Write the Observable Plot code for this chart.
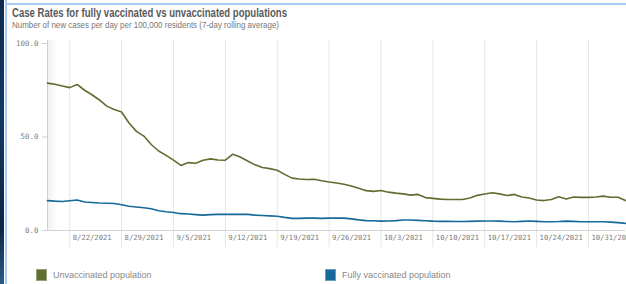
<!DOCTYPE html>
<html>
<head>
<meta charset="utf-8">
<script src="https://cdn.jsdelivr.net/npm/d3@7"></script>
<script src="https://cdn.jsdelivr.net/npm/@observablehq/plot@0.6"></script>
<style>
  html, body { margin: 0; padding: 0; background: #fff; }
  body { width: 626px; height: 284px; position: relative; overflow: hidden; }
  .leftbar { position: absolute; left: 0; top: 0; width: 4px; height: 284px;
    background: linear-gradient(180deg, #0d2c4f, #123a63 40%, #0b2746 80%, #2a5b86); }
  .leftline { position: absolute; left: 5px; top: 0; width: 2px; height: 284px; background: #a6cbf3; }
  .topline { position: absolute; left: 6px; top: 3px; right: 0; height: 2px; background: #a6cbf3; }
  .title { position: absolute; left: 12px; top: 6px; font: bold 12px "Liberation Sans", Arial, sans-serif; color: #5a5a5a; white-space: nowrap; transform-origin: 0 0; }
  .subtitle { position: absolute; left: 12px; top: 20px; font: 8.8px "Liberation Sans", Arial, sans-serif; color: #777; white-space: nowrap; transform-origin: 0 0; }
  #chart { position: absolute; left: 0; top: 34px; }
  .shadow { position: absolute; left: 47px; top: 40px; width: 10px; height: 190px;
    background: linear-gradient(90deg, rgba(0,0,0,0.06), rgba(0,0,0,0)); pointer-events: none; }
  .legend { position: absolute; top: 269px; left: 0; width: 626px; height: 14px;
    font: 9px "Liberation Sans", Arial, sans-serif; color: #888; }
  .item { position: absolute; top: 0; display: flex; align-items: center; }
  .sw { width: 11px; height: 12px; margin-right: 6px; box-sizing: border-box; border: 1px solid rgba(255,255,255,0.35); }
</style>
</head>
<body>
<div class="leftbar"></div>
<div class="leftline"></div>
<div class="topline"></div>
<div class="title" id="title">Case Rates for fully vaccinated vs unvaccinated populations</div>
<div class="subtitle" id="subtitle">Number of new cases per day per 100,000 residents (7-day rolling average)</div>
<div id="chart"></div>
<div class="shadow"></div>
<div class="legend" id="legend"></div>
<script>
// ---- data ----
const startDate = "2021-08-19";   // first daily observation
const endDate = "2021-11-05";     // last daily observation
const seriesNames = ["Unvaccinated population", "Fully vaccinated population"];
const seriesColors = ["#5f6d31", "#17699a"];
const unvaccinated = [
  78.8, 78.2, 77.3, 76.4, 78.1, 75.0, 72.6, 69.8, 66.5, 64.7,
  63.4, 57.5, 53.0, 50.5, 46.0, 42.5, 40.2, 37.6, 34.8, 36.3,
  36.0, 37.6, 38.3, 37.7, 37.6, 40.8, 39.3, 37.2, 35.1, 33.7,
  33.1, 32.2, 30.0, 28.0, 27.5, 27.3, 27.4, 26.6, 25.9, 25.4,
  24.7, 23.8, 22.6, 21.3, 20.9, 21.4, 20.5, 20.0, 19.6, 18.9,
  19.3, 17.6, 17.2, 16.8, 16.6, 16.6, 16.6, 17.4, 18.8, 19.5,
  20.2, 19.6, 18.7, 19.3, 17.9, 17.4, 16.3, 16.0, 16.6, 18.0,
  16.8, 17.9, 17.7, 17.7, 17.9, 18.4, 17.8, 17.8, 16.0
];
const fullyVaccinated = [
  16.0, 15.7, 15.5, 15.9, 16.3, 15.2, 15.0, 14.7, 14.6, 14.4,
  13.8, 13.0, 12.6, 12.2, 11.6, 10.6, 10.0, 9.6, 9.0, 8.8,
  8.5, 8.2, 8.5, 8.6, 8.6, 8.6, 8.6, 8.6, 8.2, 8.0,
  7.8, 7.6, 7.0, 6.5, 6.5, 6.6, 6.6, 6.5, 6.6, 6.6,
  6.6, 6.2, 5.7, 5.3, 5.2, 5.0, 5.1, 5.3, 5.6, 5.6,
  5.4, 5.2, 5.0, 4.9, 4.9, 4.8, 4.8, 4.9, 5.0, 5.1,
  5.1, 5.0, 4.8, 4.7, 4.9, 5.1, 4.9, 4.7, 4.7, 4.8,
  5.0, 4.9, 4.7, 4.7, 4.7, 4.7, 4.5, 4.2, 3.8
];
const xTickLabels = ["8/22/2021", "8/29/2021", "9/5/2021", "9/12/2021", "9/19/2021",
  "9/26/2021", "10/3/2021", "10/10/2021", "10/17/2021", "10/24/2021", "10/31/2021"];
const yTicks = [0, 50, 100];

// ---- build table ----
const parseMDY = d3.utcParse("%m/%d/%Y");
const fmtMDY = d3.utcFormat("%-m/%-d/%Y");
const start = new Date(startDate + "T00:00:00Z");
const end = new Date(endDate + "T00:00:00Z");
const days = d3.utcDay.range(start, d3.utcDay.offset(end, 1));
const rows = [];
[unvaccinated, fullyVaccinated].forEach((vals, s) => {
  vals.forEach((v, i) => rows.push({date: days[i], value: v, series: seriesNames[s]}));
});
const tickDates = xTickLabels.map(parseMDY);
const mono = "'DejaVu Sans Mono', 'Liberation Mono', monospace";

const chart = Plot.plot({
  width: 626,
  height: 216,
  marginLeft: 47,
  marginRight: 1,
  marginTop: 9,
  marginBottom: 20,
  style: {background: "transparent", overflow: "visible"},
  x: {type: "utc", domain: [start, end]},
  y: {domain: [0, 100]},
  color: {domain: seriesNames, range: seriesColors},
  marks: [
    Plot.ruleX(tickDates, {stroke: "#e6e6e6", strokeWidth: 1, insetTop: -3, insetBottom: -17}),
    Plot.ruleX([start], {stroke: "#dcdcdc", insetTop: -3}),
    Plot.ruleY([0], {stroke: "#d4d4d4"}),
    Plot.axisY({ticks: yTicks, tickFormat: d => d.toFixed(1), tickSize: 5, tickPadding: 4,
      stroke: "#cfcfcf", fill: "#7a7a7a", fontSize: 7.5, fontFamily: mono, label: null}),
    Plot.axisX({ticks: tickDates, tickFormat: fmtMDY, tickSize: 0, tickPadding: 4,
      textAnchor: "start", dx: 3, fill: "#7a7a7a", fontSize: 7.2, fontFamily: mono, label: null}),
    Plot.line(rows, {x: "date", y: "value", z: "series", stroke: "series", strokeWidth: 1.6, curve: "linear"})
  ]
});
document.getElementById("chart").appendChild(chart);

// fit title / subtitle to the reference's narrow widths
function fitWidth(id, target) {
  const el = document.getElementById(id);
  const w = el.getBoundingClientRect().width;
  if (w > 0) el.style.transform = `scaleX(${target / w})`;
}
fitWidth("title", 275);
fitWidth("subtitle", 267);

// ---- legend ----
const legend = document.getElementById("legend");
const legendX = [36, 325];
seriesNames.forEach((name, i) => {
  const it = document.createElement("div");
  it.className = "item";
  it.style.left = legendX[i] + "px";
  const sw = document.createElement("div");
  sw.className = "sw";
  sw.style.background = seriesColors[i];
  const tx = document.createElement("span");
  tx.textContent = name;
  it.appendChild(sw); it.appendChild(tx);
  legend.appendChild(it);
});
</script>
</body>
</html>
